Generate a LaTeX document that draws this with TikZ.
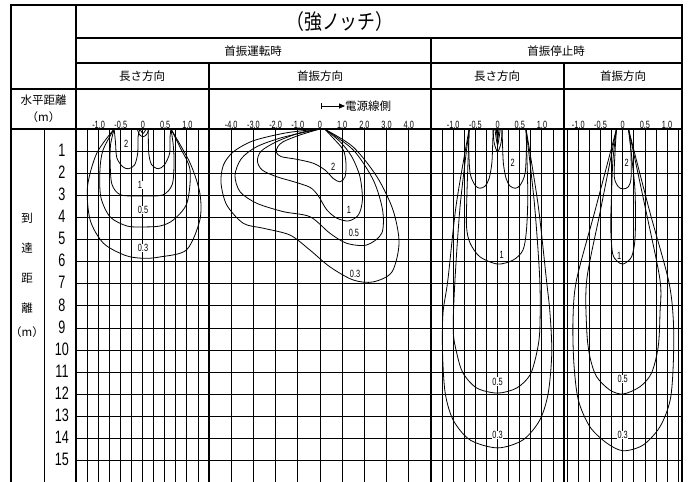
\documentclass[tikz,border=0pt]{standalone}
\usepackage{fontspec}
\setmainfont{Noto Sans CJK JP}
\newfontfamily\numfont[FakeStretch=0.7]{Liberation Sans}
\newfontfamily\titlefont[FakeStretch=0.85]{Noto Sans CJK JP}
\usetikzlibrary{arrows.meta}

\tikzset{
  frame/.style={line width=1.1pt},
  gridline/.style={line width=0.8pt},
  curve/.style={line width=0.8pt},
  head/.style={inner sep=0pt, font=\fontsize{11.5}{11.5}\selectfont},
  tick/.style={inner sep=0pt, font=\numfont\fontsize{10.5}{10.5}\selectfont},
  lvl/.style={inner sep=0.6pt, fill=white, font=\numfont\fontsize{10.5}{10.5}\selectfont},
  rownum/.style={inner sep=0pt, font=\numfont\fontsize{18}{18}\selectfont},
}

\begin{document}
\begin{tikzpicture}[x=1pt,y=-1pt]
\useasboundingbox (0,0) rectangle (691,482);

% grid
\foreach \k in {1,...,11} \draw[gridline] ({76+\k*11.083},129) -- ({76+\k*11.083},482);
\foreach \k in {1,...,9} \draw[gridline] ({209+\k*22.2},129) -- ({209+\k*22.2},482);
\foreach \k in {1,...,11} \draw[gridline] ({431+\k*11.083},129) -- ({431+\k*11.083},482);
\foreach \k in {-5,...,5} \draw[gridline] ({622.7+\k*11.1},129) -- ({622.7+\k*11.1},482);
\foreach \r in {1,...,15} \draw[gridline] (76,{129+\r*22.1}) -- (682,{129+\r*22.1});

% frame
\draw[frame] (11,482) -- (11,5) -- (682,5) -- (682,482);
\draw[frame] (76,5) -- (76,482);
\draw[gridline] (44,129) -- (44,482);
\draw[frame] (76,38) -- (682,38);
\draw[frame] (76,63) -- (682,63);
\draw[frame] (11,89) -- (682,89);
\draw[frame] (11,129) -- (682,129);
\draw[frame] (431,38) -- (431,482);
\draw[frame] (209,63) -- (209,482);
\draw[frame] (564,63) -- (564,482);

% headers
\node[inner sep=0pt, font=\titlefont\fontsize{21}{21}\selectfont] (title) at (340,22) {（強ノッチ）};
\node[head] (run) at (253,51) {首振運転時};
\node[head] (stop) at (556,51) {首振停止時};
\node[head] (runlen) at (142,76) {長さ方向};
\node[head] (runswing) at (320,76) {首振方向};
\node[head] (stoplen) at (497,76) {長さ方向};
\node[head] (stopswing) at (623,76) {首振方向};
\node[head] (hdist) at (43.5,100) {水平距離};
\node[head] (hunit) at (43.5,117) {（m）};

% left axis
\foreach \c [count=\k] in {到,達,距,離}
  \node[head] (v\k) at (27,{189+\k*29.7}) {\c};
\node[head] (vunit) at (27,332) {（m）};
\foreach \r in {1,...,15}
  \node[rownum] (r\r) at (62,{128+\r*22.1}) {\r};

% power cord side
\coordinate (cordtail) at (321,106);
\node[head, anchor=west] (cord) at (345,106) {電源線側};
\draw[line width=0.8pt, {Bar[width=6pt]}-{Triangle[length=6pt,width=5pt]}] (cordtail) -- (cord.west);

% running, length direction
\begin{scope}[shift={(143,129)},x=44.4pt,y=-22.1pt]
\foreach \v [count=\k] in {-1.0,-0.5,0,0.5,1.0} \node[tick] (pa\k) at (\v,-0.2) {\v};
\draw[curve] plot[smooth] coordinates {(-0.65,0) (-0.62,0.6) (-0.59,1.3) (-0.46,1.7) (-0.33,1.8) (-0.19,1.63) (-0.12,1.1) (-0.11,0.35) (-0.07,0)};
\draw[curve] plot[smooth] coordinates {(0.12,0) (0.12,0.35) (0.13,1.1) (0.19,1.6) (0.34,1.8) (0.48,1.63) (0.6,1.1) (0.61,0.35) (0.63,0)};
\draw[curve] plot[smooth] coordinates {(-0.13,0) (-0.08,0.25) (0,0.35) (0.08,0.25) (0.13,0)};
\draw[curve] plot[smooth] coordinates {(-0.07,0) (0,0.2) (0.07,0)};
\draw[curve] plot[smooth] coordinates {(-0.65,0) (-0.73,0.7) (-0.74,1.5) (-0.7,2.5) (-0.5,2.98) (0,3.03) (0.45,2.98) (0.66,2.5) (0.7,1.5) (0.68,0.7) (0.63,0)};
\draw[curve] plot[smooth] coordinates {(-0.65,0) (-0.9,0.95) (-0.97,1.86) (-0.95,3.08) (-0.74,3.98) (-0.36,4.39) (0,4.43) (0.38,4.39) (0.68,4.12) (0.99,3.35) (1.06,1.86) (0.83,0.81) (0.63,0)};
\draw[curve] plot[smooth] coordinates {(-0.65,0) (-1.04,1.09) (-1.25,2.61) (-1.19,4.12) (-0.89,5.17) (-0.4,5.72) (0,5.85) (0.38,5.79) (0.98,5.47) (1.28,4.12) (1.28,2.9) (1.06,1.54) (0.63,0)};
\node[lvl] (a2) at (-0.38,0.68) {2};
\node[lvl] (a1) at (-0.07,2.53) {1};
\node[lvl] (a05) at (0,3.67) {0.5};
\node[lvl] (a03) at (0,5.38) {0.3};
\end{scope}

% running, swing direction
\begin{scope}[shift={(320,129)},x=22.2pt,y=-22.1pt]
\foreach \v [count=\k] in {-4.0,-3.0,-2.0,-1.0,0,1.0,2.0,3.0,4.0} \node[tick] (pb\k) at (\v,-0.2) {\v};
\draw[curve] plot[smooth] coordinates {(0,0) (-0.9,0.27) (-1.65,0.57) (-1.9,0.8) (-1.97,1.05) (-1.75,1.25) (-1.05,1.37) (-0.3,1.55) (0.23,1.86) (0.6,2.24) (0.9,2.39) (1.13,2.16) (1.17,1.55) (1.05,0.95) (0.6,0.42) (0.23,0.02)};
\draw[curve] plot[smooth] coordinates {(0,0) (-0.9,0.17) (-1.95,0.57) (-2.65,1.0) (-2.82,1.45) (-2.6,1.86) (-1.95,2.16) (-1.2,2.38) (-0.45,2.64) (-0.08,3.02) (0.3,3.65) (0.75,4.03) (1.28,4.16) (1.73,3.89) (1.91,3.21) (1.8,2.16) (1.43,1.25) (0.9,0.57) (0.23,0.02)};
\draw[curve] plot[smooth] coordinates {(0,0) (-1.65,0.37) (-2.85,0.8) (-3.55,1.35) (-3.83,2.1) (-3.6,2.84) (-2.85,3.36) (-1.65,3.74) (-0.45,3.97) (0.45,4.72) (1.2,5.17) (2.1,5.25) (2.78,4.72) (2.82,3.67) (2.4,2.31) (1.5,0.95) (0.23,0.02)};
\draw[curve] plot[smooth] coordinates {(0,0) (-1.5,0.17) (-3.0,0.53) (-3.9,1.03) (-4.35,1.63) (-4.46,2.44) (-4.2,3.44) (-3.45,4.27) (-2.55,4.49) (-1.35,4.8) (-0.45,5.48) (0.45,6.24) (1.49,6.83) (2.39,6.92) (3.24,6.47) (3.56,5.16) (3.29,3.67) (2.57,2.17) (1.49,0.81) (0.23,0.02)};
\node[lvl] (b2) at (0.59,1.72) {2};
\node[lvl] (b1) at (1.3,3.67) {1};
\node[lvl] (b05) at (1.53,4.71) {0.5};
\node[lvl] (b03) at (1.58,6.56) {0.3};
\end{scope}

% stopped, length direction
\begin{scope}[shift={(497.6,129)},x=44.4pt,y=-22.1pt]
\foreach \v [count=\k] in {-1.0,-0.5,0,0.5,1.0} \node[tick] (pc\k) at (\v,-0.2) {\v};
\draw[curve] plot[smooth] coordinates {(-0.64,0) (-0.65,0.8) (-0.62,1.99) (-0.51,2.54) (-0.4,2.68) (-0.28,2.58) (-0.19,2.23) (-0.13,1.55) (-0.11,0.65) (-0.1,0)};
\draw[curve] plot[smooth] coordinates {(0.1,0) (0.11,0.65) (0.13,1.55) (0.19,2.23) (0.28,2.58) (0.4,2.68) (0.51,2.54) (0.62,1.99) (0.65,0.8) (0.64,0)};
\draw[curve] plot[smooth] coordinates {(-0.1,0) (-0.08,0.6) (0,1.03) (0.08,0.6) (0.1,0)};
\draw[curve] plot[smooth] coordinates {(-0.06,0) (0,0.72) (0.06,0)};
\draw[curve] plot[smooth] coordinates {(-0.03,0) (0,0.5) (0.03,0)};
\draw[curve] plot[smooth] coordinates {(-0.64,0) (-0.69,2.9) (-0.7,4.42) (-0.62,5.16) (-0.4,5.78) (0,6.11) (0.35,5.93) (0.57,5.48) (0.65,4.57) (0.68,2.9) (0.64,0)};
\draw[curve] plot[smooth] coordinates {(-0.64,0) (-0.84,3.4) (-0.96,6.83) (-1.0,9.1) (-0.92,10.14) (-0.78,11.04) (-0.47,11.72) (0,11.95) (0.43,11.72) (0.73,11.13) (0.88,10.14) (0.95,9.1) (0.95,6.83) (0.83,3.4) (0.64,0)};
\draw[curve] plot[smooth] coordinates {(-0.64,0) (-0.93,3.4) (-1.12,6.83) (-1.23,8.33) (-1.24,10.14) (-1.18,11.95) (-1.0,13.17) (-0.62,14.07) (0,14.43) (0.57,14.07) (0.95,13.17) (1.14,11.95) (1.22,10.14) (1.18,8.33) (1.1,6.83) (0.91,3.4) (0.64,0)};
\node[lvl] (c2) at (0.34,1.51) {2};
\node[lvl] (c1) at (0.09,5.7) {1};
\node[lvl] (c05) at (0,11.43) {0.5};
\node[lvl] (c03) at (0,13.85) {0.3};
\end{scope}

% stopped, swing direction
\begin{scope}[shift={(622.7,129)},x=44.4pt,y=-22.1pt]
\foreach \v [count=\k] in {-1.0,-0.5,0,0.5,1.0} \node[tick] (pd\k) at (\v,-0.2) {\v};
\draw[curve] plot[smooth] coordinates {(-0.14,0) (-0.17,0.95) (-0.19,2.16) (-0.1,2.61) (0.01,2.71) (0.13,2.61) (0.19,2.16) (0.18,0.8) (0.13,0)};
\draw[curve] plot[smooth] coordinates {(-0.14,0) (-0.22,1.4) (-0.25,2.9) (-0.27,4.42) (-0.23,5.61) (-0.13,5.97) (0.01,6.11) (0.2,5.78) (0.28,4.87) (0.28,2.9) (0.21,1.4) (0.13,0)};
\draw[curve] plot[smooth] coordinates {(-0.14,0) (-0.5,3.67) (-0.81,6.83) (-0.81,9.1) (-0.74,10.3) (-0.59,11.2) (-0.29,11.81) (0.01,11.99) (0.39,11.66) (0.65,11.04) (0.8,9.85) (0.84,8.33) (0.84,6.83) (0.52,3.67) (0.13,0)};
\draw[curve] plot[smooth] coordinates {(-0.14,0) (-0.62,3.67) (-1.04,6.83) (-1.12,8.64) (-1.1,10.59) (-1.0,12.26) (-0.74,13.47) (-0.36,14.21) (0.01,14.56) (0.46,14.3) (0.84,13.47) (1.07,12.26) (1.14,10.59) (1.14,8.64) (1.03,6.83) (0.6,3.67) (0.13,0)};
\node[lvl] (d2) at (0.09,1.51) {2};
\node[lvl] (d1) at (-0.08,5.73) {1};
\node[lvl] (d05) at (0,11.31) {0.5};
\node[lvl] (d03) at (0,13.85) {0.3};
\end{scope}
\end{tikzpicture}
\end{document}
